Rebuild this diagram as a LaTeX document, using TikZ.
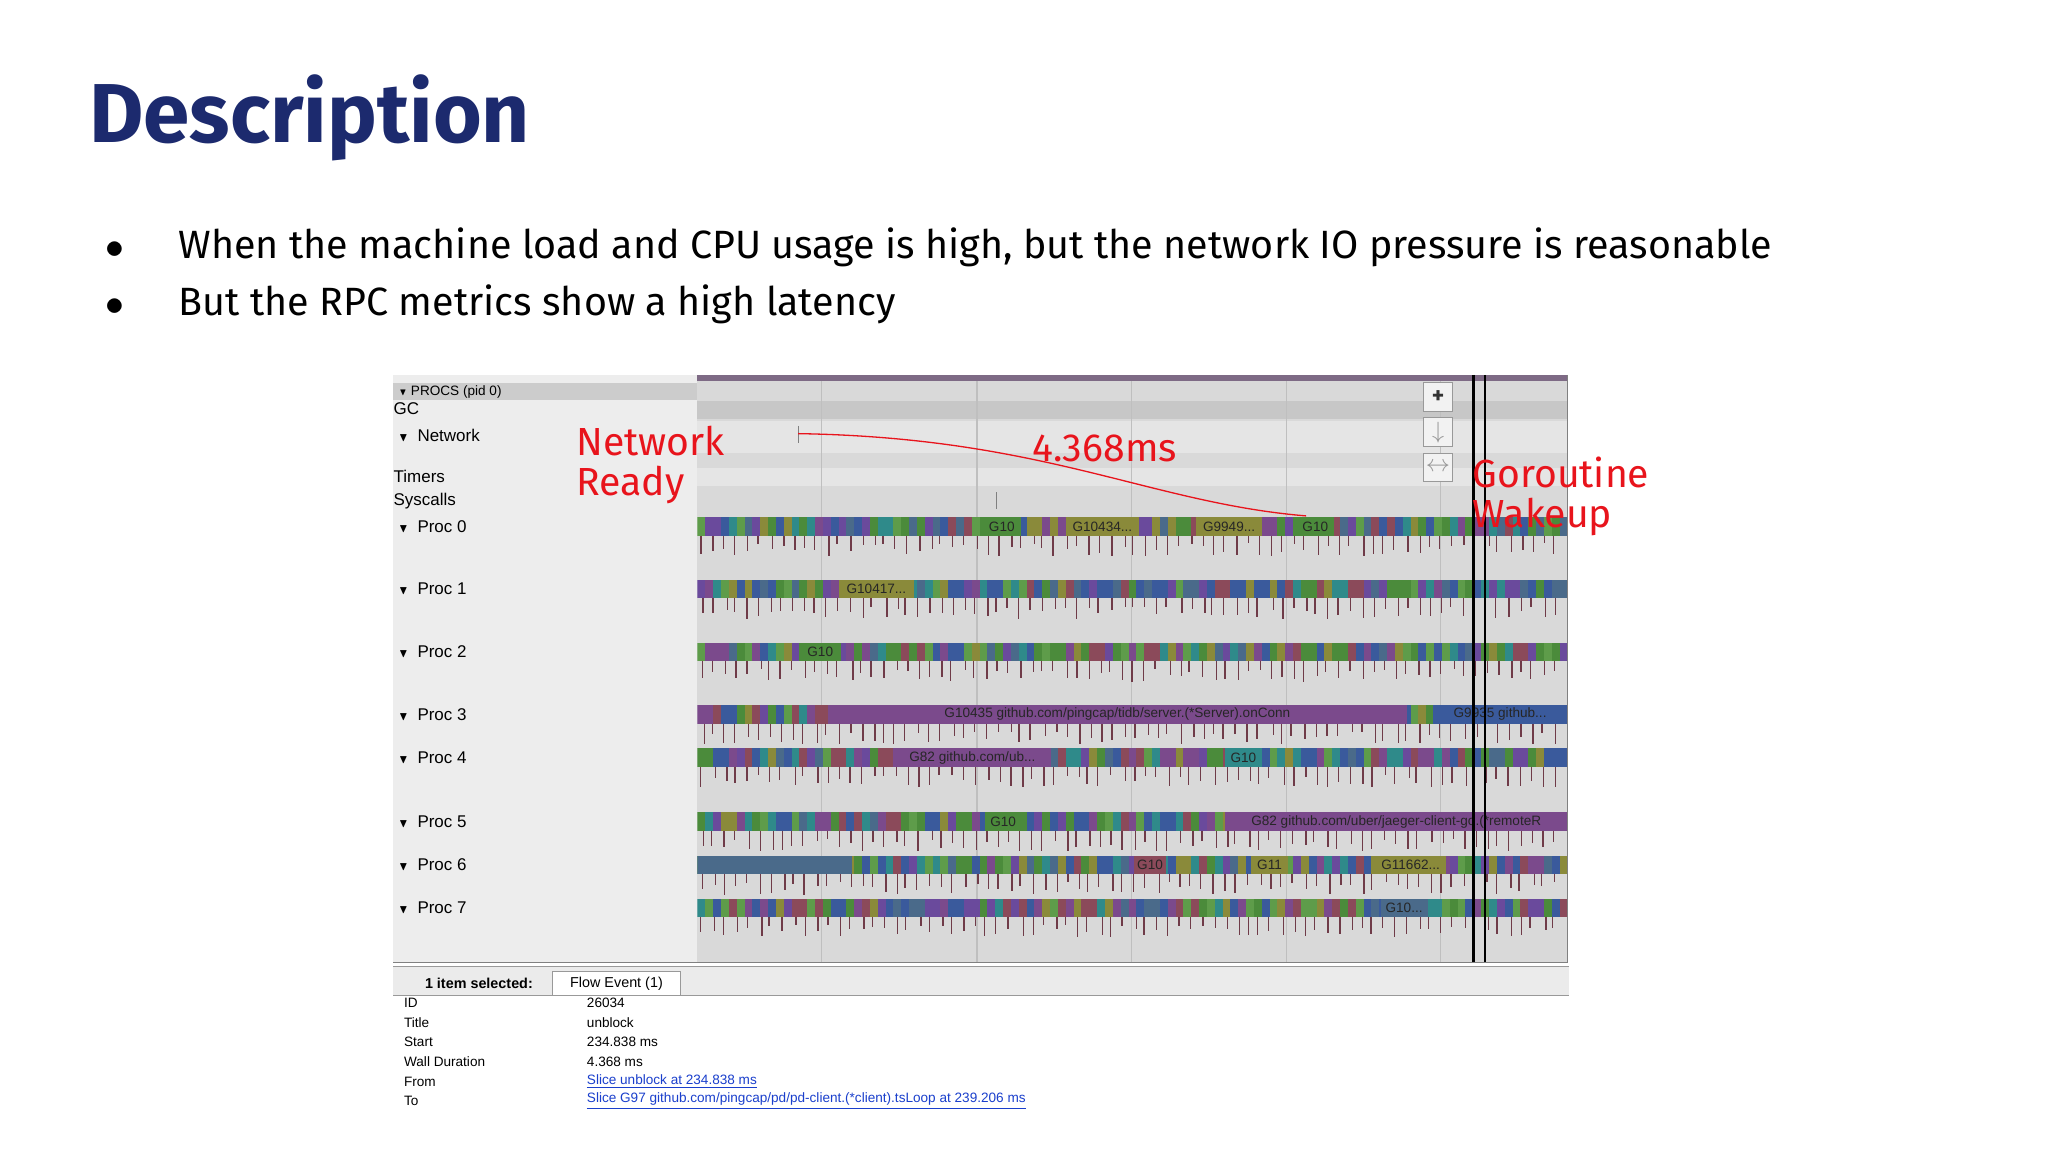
\documentclass[tikz,border=0pt]{standalone}
\usepackage{amssymb}
\usepackage{fontspec}
\setmainfont{Fira Sans}
\newfontfamily\uif{Liberation Sans}
\usetikzlibrary{calc}
\definecolor{ttl}{HTML}{1C2A6E}
\definecolor{ann}{HTML}{E8141C}
\definecolor{pa}{HTML}{4B8B3B}\definecolor{pb}{HTML}{7B4A8C}\definecolor{pc}{HTML}{3A5A9C}
\definecolor{pd}{HTML}{2F8A8A}\definecolor{pe}{HTML}{8A8A3A}\definecolor{pf}{HTML}{8B4A5A}
\definecolor{pg}{HTML}{4A6A8A}\definecolor{ph}{HTML}{5E9C4A}\definecolor{pi}{HTML}{6A4A9C}
\definecolor{lnk}{HTML}{1A3FCC}
\pgfmathdeclarerandomlist{pal}{{pa}{pb}{pc}{pd}{pe}{pf}{pg}{ph}{pi}{pa}{pc}}
\tikzset{
 ui/.style={font=\uif\fontsize{6.5}{7}\selectfont, anchor=west, inner sep=0},
 sm/.style={font=\uif\fontsize{5.2}{6}\selectfont, anchor=west, inner sep=0},
 sl/.style={font=\uif\fontsize{5.2}{6}\selectfont, text=black!85, inner sep=0},
 red/.style={font=\fontsize{15}{18}\selectfont, text=ann, anchor=west, inner sep=0, align=left},
 tick/.style={draw=pf!80!black, line width=0.5pt},
}
\newcommand{\slc}[6]{\fill[#4] (#1,#3) rectangle (#2,#3+14); \node[sl] (#6) at ({(#1+#2)/2},#3+7) {#5};}
\begin{document}
\begin{tikzpicture}[x=0.5pt,y=-0.5pt]
\useasboundingbox[fill=white] (0,0) rectangle (1568,882);
\node[font=\bfseries\fontsize{32}{36}\selectfont, text=ttl, anchor=west, inner sep=0] (title) at (68,90) {Description};
\node[font=\fontsize{15.1}{17}\selectfont, anchor=west, inner sep=0] (b1) at (80,189) {$\bullet$\hspace{21pt}When the machine load and CPU usage is high, but the network IO pressure is reasonable};
\node[font=\fontsize{15.1}{17}\selectfont, anchor=west, inner sep=0] (b2) at (80,233) {$\bullet$\hspace{21pt}But the RPC metrics show a high latency};
% panel
\fill[black!7] (301,287) rectangle (534,737);
\fill[black!15] (534,287) rectangle (1200,737);
\fill[black!22] (534,307) rectangle (1200,321);
\fill[black!10] (534,322) rectangle (1200,347);
\fill[black!10] (534,358) rectangle (1200,372);
\fill[black!20] (301,293) rectangle (534,306);
\fill[pb!40!gray] (534,287) rectangle (1200,292);
\foreach \gx in {629,748,866,985,1103} \draw[black!25] (\gx,292) -- (\gx,737);
\node[sm] (procs) at (305,300) {\scalebox{0.7}{$\blacktriangledown$} PROCS (pid 0)};
\node[ui] (gc) at (301,313) {GC};
\node[ui] (net) at (305,333) {\scalebox{0.7}{$\blacktriangledown$}\ \ Network};
\node[ui] (tim) at (301,365) {Timers};
\node[ui] (sys) at (301,384) {Syscalls};
\foreach \n/\y in {0/396,1/444,2/492,3/540,4/573,5/622,6/655,7/688} \node[ui] (p\n) at (305,\y+7) {\scalebox{0.7}{$\blacktriangledown$}\ \ Proc \n};
\pgfmathsetseed{42}
\begin{scope}
\clip (534,287) rectangle (1200,737);
\foreach \y in {396,444,492,540,573,622,655,688}{
 \foreach \i in {0,...,110}{\pgfmathrandomitem{\c}{pal}\fill[\c] ({534+\i*6},\y) rectangle ++(6.3,14);}
 \foreach \i in {0,...,75}{\pgfmathsetmacro\xx{536+\i*8.7+rnd*4}\pgfmathsetmacro\hh{6+rnd*10}\draw[tick] (\xx,\y+14) -- ++(0,\hh);}
}
\slc{634}{1077}{540}{pb}{G10435 github.com/pingcap/tidb/server.(*Server).onConn}{s1}
\slc{1097}{1200}{540}{pc}{G9935 github...}{s2}
\slc{938}{1200}{622}{pb}{G82 github.com/uber/jaeger-client-go.(*remoteR}{s3}
\slc{534}{652}{655}{pg}{\hspace{-100pt}in}{s4}
\slc{684}{805}{573}{pb}{G82 github.com/ub...}{s5}
\slc{816}{872}{396}{pe}{G10434...}{s6}
\slc{916}{966}{396}{pe}{G9949...}{s7}
\slc{642}{700}{444}{pe}{G10417...}{s8}
\slc{1053}{1107}{655}{pe}{G11662...}{s9}
\slc{752}{782}{396}{pa}{G10}{s10}
\slc{993}{1021}{396}{pa}{G10}{s11}
\slc{612}{644}{492}{pa}{G10}{s12}
\slc{938}{966}{573}{pd}{G10}{s13}
\slc{754}{782}{622}{pa}{G10}{s14}
\slc{868}{893}{655}{pf}{G10}{s15}
\slc{958}{986}{655}{pe}{G11}{s16}
\slc{1057}{1093}{688}{pg}{G10...}{s17}
\end{scope}
\draw[black, line width=1pt] (1128,287) -- (1128,737) (1137,287) -- (1137,737);
\draw[black!50] (301,737) -- (1200,737) (1200,287) -- (1200,737);
% toolbar
\node[draw=black!40, fill=black!5, minimum size=11pt, inner sep=0, font=\bfseries\small, text=black!80] (tb0) at (1101,304) {+};
\node[draw=black!40, fill=black!5, minimum size=11pt, inner sep=0, font=\bfseries\small, text=black!40] (tb1) at (1101,331) {$\downarrow$};
\node[draw=black!40, fill=black!5, minimum size=11pt, inner sep=0, font=\bfseries\small, text=black!40] (tb2) at (1101,358) {$\leftrightarrow$};
\draw[black!50] (611,326) -- (611,339) (763,377) -- (763,390);
% annotations
\coordinate (cs) at (611,332); \coordinate (ce) at (1000,395);
\draw[ann, line width=0.5pt] (cs) .. controls (800,335) and (880,385) .. (ce);
\node[red] (nr) at (441,356) {Network\\[-3pt]Ready};
\node[red] (lat) at (790,343) {4.368ms};
\node[red] (gw) at (1127,380) {Goroutine\\[-3pt]Wakeup};
% bottom
\fill[black!8] (301,740) rectangle (1201,762);
\draw[black!40] (301,740) -- (1201,740) (301,762) -- (1201,762);
\node[ui, font=\uif\bfseries\fontsize{5.5}{6}\selectfont] (sel) at (325,753) {1 item selected:};
\node[draw=black!40, fill=white, minimum width=49pt, minimum height=9pt, inner sep=0, font=\uif\fontsize{5.5}{6}\selectfont] (tab) at (472,753) {Flow Event (1)};
\foreach \k/\b [count=\j from 0] in {ID/26034, Title/unblock, Start/234.838 ms, Wall Duration/4.368 ms}{
 \node[sm] (k\j) at (309,768+\j*15) {\k};
 \node[sm] (v\j) at (449,768+\j*15) {\b};}
\node[sm] (k4) at (309,828) {From};
\node[sm] (k5) at (309,843) {To};
\node[sm, text=lnk] (v4) at (449,828) {\underline{Slice unblock at 234.838 ms}};
\node[sm, text=lnk] (v5) at (449,843) {\underline{Slice G97 github.com/pingcap/pd/pd-client.(*client).tsLoop at 239.206 ms}};
\end{tikzpicture}
\end{document}
